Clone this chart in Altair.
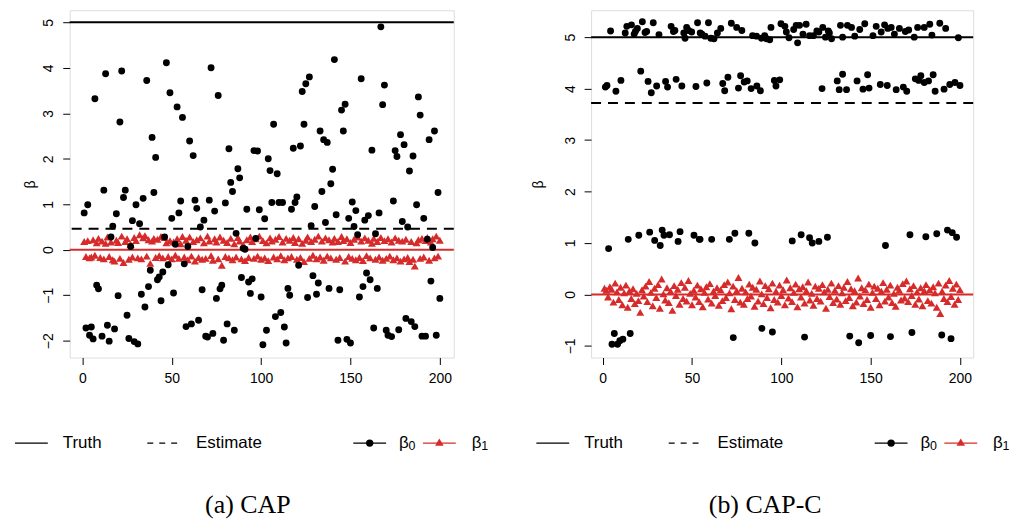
import altair as alt
import pandas as pd

# ---------------- Panel (a) CAP ----------------
a_b0_x = [1,3,7,2,5,4,6,8,9,12,11,13,14,15,18,16,17,19,20,21,22,23,24,25,26,29,31,27,28,30,
          32,34,33,35,36,37,38,39,40,41,42,43,45,44,46,47,48,49,50,51,52,53,54,56,55,57,58,61,59,60,
          62,63,64,65,67,68,66,69,70,73,71,72,74,75,77,78,76,79,80,81,82,83,84,85,86,87,88,89,90,91,
          92,93,95,94,96,98,97,99,100,101,102,103,104,105,106,107,108,109,110,112,111,113,114,115,116,117,118,119,120,121,
          122,123,125,127,124,126,128,129,132,130,131,133,134,135,136,137,138,140,139,141,142,143,144,145,147,146,148,150,149,151,
          152,153,154,155,156,157,158,160,159,161,162,163,164,165,166,167,168,169,170,171,173,174,175,176,177,178,179,180,181,184,
          182,183,185,186,187,188,189,190,192,191,193,194,197,195,196,198,199,200]
a_b0_y = [0.81,0.99,3.32,-1.72,-1.70,-1.88,-1.96,-0.78,-0.86,1.31,-1.90,3.87,-1.66,-2.01,-1.74,0.28,0.52,0.79,-1.01,2.81,3.93,1.15,1.31,-1.44,-1.95,-2.02,-2.07,0.07,0.64,0.99,
          0.57,1.13,-0.98,-1.26,3.72,-0.81,-0.45,2.47,1.26,2.03,-0.66,-0.60,-0.49,-1.12,0.28,4.11,-0.33,3.45,0.69,-0.95,0.12,3.14,0.81,2.91,1.07,-0.31,-1.69,-1.63,0.07,2.39,
          2.07,1.09,0.91,-1.55,-0.88,0.65,0.50,-1.90,-1.92,-1.84,1.09,4.00,0.85,-1.07,-0.86,-0.78,3.39,-1.99,1.03,-1.63,2.22,1.48,1.28,-1.77,0.36,1.78,1.58,-0.61,0.03,0.01,
          0.89,-0.71,-0.64,-0.96,2.18,2.17,0.25,0.88,-1.04,-2.09,0.68,-1.77,2.00,1.74,1.04,2.76,-1.47,1.67,1.04,1.04,-1.38,-1.70,-2.05,-0.85,-1.00,0.89,2.23,1.04,1.16,-0.34,
          2.28,3.48,3.65,3.80,2.76,-1.05,0.53,-0.57,-0.73,0.95,-0.98,2.61,1.28,2.42,0.60,2.36,-0.85,1.77,1.45,4.18,0.77,-1.99,-0.88,3.07,3.20,2.61,-1.97,-2.05,0.69,1.05,
          0.51,0.86,0.33,-1.04,3.76,-0.81,0.65,0.75,-0.51,-0.66,2.19,-1.72,0.35,-0.85,0.81,4.90,3.19,3.62,-1.77,-1.88,-1.91,1.07,2.18,2.05,-1.76,2.53,0.62,2.31,-1.51,-1.58,
          0.50,1.73,2.06,-1.69,0.99,3.36,2.96,-1.90,-1.90,0.69,0.23,2.42,2.61,-0.69,0.05,-1.88,1.26,-1.07]
a_b1 = [0.18,-0.15,0.20,-0.18,-0.16,0.22,-0.12,0.15,0.25,-0.17,
        0.19,-0.20,0.14,0.28,-0.15,0.17,-0.22,-0.25,0.21,0.16,
        -0.19,0.30,-0.28,0.18,0.24,-0.21,0.12,-0.16,0.27,0.20,
        -0.18,0.33,-0.20,0.26,0.31,-0.14,0.22,-0.30,0.19,0.25,
        -0.17,0.23,-0.13,0.29,-0.18,0.27,0.15,-0.15,0.20,-0.20,
        0.17,-0.12,0.24,-0.19,0.13,0.29,-0.16,0.21,-0.22,0.28,
        -0.14,0.18,-0.25,0.22,-0.17,0.26,-0.21,0.15,-0.19,0.30,
        0.19,-0.13,-0.23,0.24,0.17,-0.20,0.28,-0.34,0.21,-0.15,
        0.16,-0.18,0.25,-0.22,0.13,-0.16,0.27,0.19,-0.20,0.11,
        -0.24,0.22,-0.17,0.28,0.18,-0.19,0.24,-0.14,0.30,-0.21,
        0.20,-0.18,0.15,-0.24,0.26,0.19,-0.16,0.23,-0.20,0.29,
        -0.13,0.17,-0.22,0.25,-0.18,0.21,-0.15,0.27,0.16,-0.21,
        0.24,-0.17,0.14,-0.26,0.21,0.28,-0.19,0.18,-0.12,0.23,
        -0.20,0.30,-0.16,0.19,-0.23,0.26,-0.14,0.22,-0.18,0.17,
        0.25,-0.21,0.18,-0.17,0.29,0.20,-0.25,0.24,-0.15,0.16,
        -0.19,0.23,-0.22,0.28,-0.17,0.19,-0.24,0.26,-0.13,0.21,
        -0.18,0.14,0.25,-0.21,0.18,-0.16,0.27,-0.23,0.20,-0.19,
        0.24,-0.14,0.17,-0.22,0.26,-0.18,0.21,-0.25,0.19,-0.20,
        0.23,-0.17,-0.26,0.18,-0.21,-0.36,0.15,0.22,-0.19,0.25,
        -0.16,0.20,0.27,-0.23,0.17,0.24,-0.18,0.30,-0.14,0.21]
a_truth_b0 = 5.0
a_est_b0 = 0.46
a_truth_b1 = 0.0

# ---------------- Panel (b) CAP-C ----------------
b_b0_x = [4.4,12.6,13.5,16.1,17.6,18.3,19.4,22.2,23.7,24.6,28.3,31.5,38.3,39.6,40.4,45.4,46.1,47,48.1,49.8,53.1,54.6,
          55.5,59.2,57.3,60.5,62.3,64.2,66.1,72,75,77.9,83.9,86.1,88.9,90.7,91.7,93.5,94.2,99.8,102,102.8,104.3,106.9,108.3,110.2,109.1,112.1,113.9,115.8,118,119.9,121,123.2,124.7,126.9,
          126.3,128.1,133.1,134.3,137,139.3,141.1,143.9,146.7,151.3,153.1,155.9,157.8,159.6,161.5,163.3,166.1,169.4,171.3,174.4,176.3,180,183.1,184.3,188.7,192,199.1,
          1.5,2.4,7.4,10.2,21.3,25.4,27.2,30.2,35.2,36.3,41.1,44.3,52.2,
          58.3,67.2,68.3,70.1,76,77.2,79.2,80.9,83.1,86.3,88.3,96.1,97,99.1,122.8,
          131.3,134.3,132.4,136.5,142.4,145.7,149.1,148.3,155.4,159.3,164.3,168.3,170.2,175,176.9,178.1,180,182.4,185,186.1,191.1,194.3,197.2,200,
          3.3,14.3,20.2,26.3,29.1,32.2,33.3,34.3,37.4,42.2,43.3,51.1,54.1,
          54.5,61,70.9,74,81.8,85.2,106.1,111.1,115.8,117.3,121,125.8,
          158.3,172,180.9,187,193,195.7,198.1,
          5.2,8.3,6.5,9.6,11.3,15.4,73.1,89.1,95,113,138.3,143.3,150,161.1,173.1,189.8,195]
b_b0_y = [5.12,5.08,5.21,5.24,5.06,5.11,5.17,5.30,5.09,5.11,5.28,5.05,5.21,5.11,5.13,5.08,4.98,5.19,5.13,5.10,5.28,5.08,
          5.06,5.28,5.02,4.98,4.97,5.08,5.17,5.27,5.19,5.13,5.03,5.02,4.98,5.03,4.97,4.95,5.19,5.26,5.21,5.10,4.99,5.15,5.23,5.23,4.89,5.06,5.25,5.03,5.03,5.12,5.10,5.19,5.00,5.08,
          5.12,4.97,5.23,5.00,5.23,5.19,5.02,5.15,5.26,5.03,5.21,5.10,5.24,5.17,5.19,5.06,5.17,5.11,5.14,5.00,5.19,5.19,5.25,5.04,5.27,5.17,4.99,
          4.03,4.06,3.95,4.16,4.34,4.14,3.92,4.05,4.14,4.03,4.18,4.05,4.04,
          4.11,4.10,3.96,4.22,4.01,4.25,4.13,4.15,4.00,4.05,3.96,4.16,4.05,4.17,4.00,
          4.15,4.28,3.98,3.98,4.15,3.99,4.01,4.27,4.08,4.06,3.98,4.03,3.95,4.19,4.16,4.25,4.12,4.15,4.27,3.95,3.99,4.08,4.12,4.06,
          0.89,1.07,1.15,1.21,1.05,0.95,1.25,1.15,1.16,1.03,1.22,1.15,1.07,
          1.07,1.07,1.07,1.19,1.19,1.00,1.04,1.16,1.10,1.00,1.03,1.11,
          0.95,1.16,1.12,1.18,1.25,1.20,1.11,
          -0.97,-0.97,-0.76,-0.90,-0.87,-0.76,-0.84,-0.66,-0.73,-0.83,-0.81,-0.94,-0.80,-0.82,-0.74,-0.79,-0.86]
b_b1 = [0.12,0.08,-0.05,0.15,0.10,-0.15,0.22,0.05,-0.10,0.14,
        -0.20,0.03,0.18,-0.25,0.07,-0.08,0.11,-0.18,0.02,-0.12,
        -0.35,0.09,-0.03,0.16,-0.14,0.25,0.04,-0.22,0.12,-0.06,
        0.19,-0.27,0.30,0.01,-0.11,0.13,-0.16,0.06,-0.31,0.17,
        -0.02,0.10,-0.19,0.23,-0.08,0.14,-0.13,0.27,0.02,-0.20,
        0.08,-0.05,0.18,-0.14,0.11,-0.24,0.04,0.15,-0.09,0.21,
        -0.17,0.06,-0.02,0.13,-0.21,0.09,-0.12,0.19,-0.06,0.24,
        0.03,-0.28,0.16,-0.10,0.07,0.33,-0.15,0.12,-0.19,0.05,
        -0.08,0.20,-0.03,0.14,-0.23,0.10,-0.13,0.26,0.01,-0.18,
        0.17,-0.06,0.11,-0.26,0.22,-0.10,0.06,-0.15,0.18,-0.02,
        0.09,-0.20,0.28,-0.07,0.13,-0.14,0.04,0.20,-0.24,0.11,
        -0.05,0.15,-0.17,0.07,0.24,-0.11,0.02,-0.21,0.16,-0.08,
        0.12,-0.13,0.19,0.05,-0.27,0.10,-0.04,0.22,-0.16,0.08,
        -0.09,0.17,-0.19,0.03,0.14,-0.12,0.25,-0.06,0.11,-0.22,
        0.07,-0.15,0.32,-0.03,0.13,-0.18,0.09,-0.10,0.20,-0.25,
        0.04,0.16,-0.08,0.12,-0.20,0.06,0.23,-0.13,0.10,-0.05,
        0.18,-0.16,0.02,-0.23,0.14,0.08,-0.11,0.21,-0.07,0.26,
        -0.14,0.11,-0.02,0.17,-0.19,0.05,-0.09,0.13,-0.22,0.07,
        0.19,-0.12,0.09,-0.17,0.15,0.03,-0.25,0.22,-0.37,0.06,
        -0.08,0.18,-0.14,0.27,-0.04,0.12,-0.19,0.20,-0.10,0.09]
b_truth_b0 = 5.0
b_est_b0 = 3.72
b_truth_b1 = 0.0

x_ticks = [0, 50, 100, 150, 200]
a_y_ticks = [-2, -1, 0, 1, 2, 3, 4, 5]
b_y_ticks = [-1, 0, 1, 2, 3, 4, 5]
legend_labels = ["Truth", "Estimate", "β", "β"]
legend_subs = ["0", "1"]
captions = ["(a) CAP", "(b) CAP-C"]

RED = "#D72B2B"
SANS = "Liberation Sans"


def panel(b0x, b0y, b1, truth0, est0, truth1, xdom, ydom, yticks, w, h, caption, cap_x, title_x):
    df0 = pd.DataFrame({"i": b0x, "v": b0y})
    df1 = pd.DataFrame({"i": list(range(1, len(b1) + 1)), "v": b1})
    xs = alt.Scale(domain=xdom, nice=False, zero=False)
    ys = alt.Scale(domain=ydom, nice=False, zero=False)
    xax = alt.Axis(values=x_ticks, title=None, domain=False, grid=False, tickSize=7,
                   tickColor="black", labelFontSize=14, labelPadding=7, labelColor="black",
                   labelFont=SANS)
    yax = alt.Axis(values=yticks, title="β", domain=False, grid=False, tickSize=7,
                   tickColor="black", labelFontSize=14, labelColor="black", labelFont=SANS,
                   labelAngle=270, labelAlign="center", labelBaseline="alphabetic",
                   labelPadding=10, titleAngle=270, titleX=title_x, titleY=h / 2,
                   titleAlign="center", titleBaseline="middle", titleFont=SANS,
                   titleFontSize=14, titleFontWeight="normal", titleColor="black")
    X = alt.X("i:Q", scale=xs, axis=xax)
    Y = alt.Y("v:Q", scale=ys, axis=yax)

    truth_line = alt.Chart(pd.DataFrame({"v": [truth0]})).mark_rule(
        color="black", strokeWidth=2).encode(y=alt.Y("v:Q", scale=ys, axis=yax))
    est_line = alt.Chart(pd.DataFrame({"v": [est0]})).mark_rule(
        color="black", strokeWidth=2, strokeDash=[10, 7]).encode(y=alt.Y("v:Q", scale=ys, axis=yax))
    red_line = alt.Chart(pd.DataFrame({"v": [truth1]})).mark_rule(
        color=RED, strokeWidth=2).encode(y=alt.Y("v:Q", scale=ys, axis=yax))

    tri = alt.Chart(df1).mark_point(shape="triangle-up", filled=True, opacity=1,
                                    color=RED, size=64, strokeWidth=0).encode(x=X, y=Y)
    dots = alt.Chart(df0).mark_point(shape="circle", filled=True, opacity=1,
                                     color="black", size=48, strokeWidth=0).encode(x=X, y=Y)

    ly = 435
    one = pd.DataFrame({"k": [0]})
    leg = []
    leg.append(alt.Chart(one).mark_rule(color="black", strokeWidth=1.3).encode(
        x=alt.value(-55), x2=alt.value(-22), y=alt.value(ly)))
    leg.append(alt.Chart(one).mark_rule(color="black", strokeWidth=1.3, strokeDash=[6, 6]).encode(
        x=alt.value(78), x2=alt.value(108), y=alt.value(ly)))
    leg.append(alt.Chart(one).mark_rule(color="black", strokeWidth=1.3).encode(
        x=alt.value(285), x2=alt.value(318), y=alt.value(ly)))
    leg.append(alt.Chart(one).mark_rule(color=RED, strokeWidth=1.3).encode(
        x=alt.value(355), x2=alt.value(388), y=alt.value(ly)))
    leg.append(alt.Chart(one).mark_point(shape="circle", filled=True, opacity=1, color="black",
                                         size=55, strokeWidth=0).encode(x=alt.value(301.5), y=alt.value(ly)))
    leg.append(alt.Chart(one).mark_point(shape="triangle-up", filled=True, opacity=1, color=RED,
                                         size=75, strokeWidth=0).encode(x=alt.value(371.5), y=alt.value(ly - 1)))
    txt = pd.DataFrame({"t": legend_labels, "x": [-7, 127, 331, 404]})
    for t, xx in zip(txt["t"], txt["x"]):
        leg.append(alt.Chart(pd.DataFrame({"t": [t]})).mark_text(
            font=SANS, fontSize=17, align="left", baseline="middle", color="black").encode(
            x=alt.value(xx), y=alt.value(ly), text="t:N"))
    for s, xx in zip(legend_subs, [340.5, 413.5]):
        leg.append(alt.Chart(pd.DataFrame({"t": [s]})).mark_text(
            font=SANS, fontSize=12.5, align="left", baseline="middle", color="black").encode(
            x=alt.value(xx), y=alt.value(ly + 3), text="t:N"))
    cap = alt.Chart(pd.DataFrame({"t": [caption]})).mark_text(
        font="Liberation Serif", fontSize=26, align="center", baseline="middle", color="black").encode(
        x=alt.value(cap_x), y=alt.value(497), text="t:N")

    return alt.layer(truth_line, est_line, red_line, tri, dots, *leg, cap).properties(width=w, height=h)


left = panel(a_b0_x, a_b0_y, a_b1, a_truth_b0, a_est_b0, a_truth_b1,
             [-7.1, 207.8], [-2.37, 5.265], a_y_ticks, 386, 349, captions[0], 179, -39)
right = panel(b_b0_x, b_b0_y, b_b1, b_truth_b0, b_est_b0, b_truth_b1,
              [-6.5, 207.4], [-1.227, 5.523], b_y_ticks, 384, 349, captions[1], 175, -53)

chart = alt.hconcat(left, right, spacing=138, bounds="flush").properties(
    padding={"left": 5, "top": 0, "right": 0, "bottom": 0}
).configure_view(stroke="black", strokeWidth=1).configure(background="white")

chart.save("out.html", embed_options={"renderer": "svg", "actions": False})
